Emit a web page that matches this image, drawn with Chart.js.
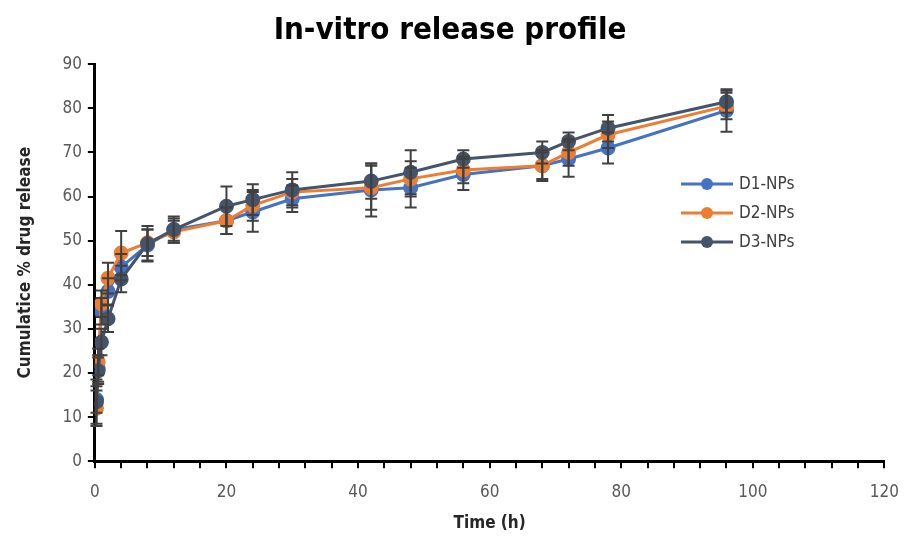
<!DOCTYPE html>
<html lang="en">
<head>
    <meta charset="UTF-8">
    <title>In-vitro release profile</title>
    <script src="https://cdn.jsdelivr.net/npm/chart.js"></script>
    <style>
        html, body { margin: 0; padding: 0; background: #fff; }
        #wrap { width: 913px; height: 536px; }
    </style>
</head>
<body>
    <div id="wrap"><canvas id="releaseChart"></canvas></div>
    <script>
        // Time points (h)
        const hours = [0.25, 0.5, 1, 2, 4, 8, 12, 20, 24, 30, 42, 48, 56, 68, 72, 78, 96];

        // Cumulative % drug release
        const d1Values = [14, 21, 34, 38.5, 44, 49, 52.5, 54.5, 56.5, 59.5, 61.5, 62, 65, 67, 68.5, 71, 79.5];
        const d2Values = [12, 22.5, 35.7, 41.5, 47.2, 49.5, 52, 54.5, 58, 61, 62, 64, 66, 67, 70, 74, 80.5];
        const d3Values = [13.5, 20.5, 27, 32.3, 41.3, 49.3, 52.5, 57.8, 59.3, 61.5, 63.5, 65.5, 68.5, 70, 72.5, 75.5, 81.5];

        // Standard deviations
        const d1Errors = [3, 3, 3, 3, 3, 3.5, 2.5, 3, 4.5, 3, 6, 4.5, 3.5, 3.5, 4, 3.5, 4.8];
        const d2Errors = [4, 3, 3, 3.5, 5, 3, 2.5, 3, 3.5, 3, 5, 4, 3, 3, 3, 3, 3];
        const d3Errors = [5, 3, 3, 3, 3, 4, 3, 4.5, 3.5, 4, 4, 5, 2, 2.5, 2, 3, 2.5];

        const seriesNames = ['D1-NPs', 'D2-NPs', 'D3-NPs'];
        const seriesColors = ['#4472C4', '#ED7D31', '#44546A'];

        const xTicks = [0, 20, 40, 60, 80, 100, 120];
        const yTicks = [0, 10, 20, 30, 40, 50, 60, 70, 80, 90];

        const FONT = '"Liberation Sans Narrow", "DejaVu Sans Condensed", sans-serif';

        function toPoints(values) {
            return values.map((v, i) => ({ x: hours[i], y: v }));
        }

        const allValues = [d1Values, d2Values, d3Values];
        const allErrors = [d1Errors, d2Errors, d3Errors];

        // Error bars drawn through the chart scales
        const errorBarPlugin = {
            id: 'errorBars',
            afterDatasetsDraw(chart) {
                const ctx = chart.ctx;
                const xs = chart.scales.x;
                const ys = chart.scales.y;
                ctx.save();
                ctx.strokeStyle = '#404040';
                ctx.lineWidth = 2;
                allValues.forEach((vals, s) => {
                    vals.forEach((v, i) => {
                        const px = xs.getPixelForValue(hours[i]);
                        const top = ys.getPixelForValue(v + allErrors[s][i]);
                        const bot = ys.getPixelForValue(v - allErrors[s][i]);
                        ctx.beginPath();
                        ctx.moveTo(px, top);
                        ctx.lineTo(px, bot);
                        ctx.moveTo(px - 6, top);
                        ctx.lineTo(px + 6, top);
                        ctx.moveTo(px - 6, bot);
                        ctx.lineTo(px + 6, bot);
                        ctx.stroke();
                    });
                });
                ctx.restore();
            }
        };

        // Legend with line + marker samples
        const lineLegendPlugin = {
            id: 'lineLegend',
            afterDraw(chart) {
                const ctx = chart.ctx;
                ctx.save();
                seriesNames.forEach((name, i) => {
                    const y = 184 + i * 29;
                    ctx.strokeStyle = seriesColors[i];
                    ctx.lineWidth = 3;
                    ctx.beginPath();
                    ctx.moveTo(681, y);
                    ctx.lineTo(733, y);
                    ctx.stroke();
                    ctx.fillStyle = seriesColors[i];
                    ctx.beginPath();
                    ctx.arc(707, y, 6, 0, Math.PI * 2);
                    ctx.fill();
                    ctx.fillStyle = '#404040';
                    ctx.font = '17px ' + FONT;
                    ctx.textBaseline = 'middle';
                    ctx.fillText(name, 739, y + 1);
                });
                ctx.restore();
            }
        };

        const datasets = seriesNames.map((name, i) => ({
            label: name,
            data: toPoints(allValues[i]),
            borderColor: seriesColors[i],
            backgroundColor: seriesColors[i],
            borderWidth: 3,
            pointRadius: 6,
            pointHoverRadius: 6,
            tension: 0,
            order: 2 - i
        }));

        new Chart(document.getElementById('releaseChart'), {
            type: 'line',
            data: { datasets: datasets },
            options: {
                responsive: true,
                maintainAspectRatio: false,
                animation: false,
                layout: { padding: { left: 15, right: 28, top: 0, bottom: 2 } },
                plugins: {
                    legend: { display: false },
                    tooltip: { enabled: false },
                    title: {
                        display: true,
                        text: 'In-vitro release profile',
                        color: '#000',
                        font: { family: FONT, size: 31, weight: 'bold' },
                        padding: { top: 12, bottom: 15 }
                    }
                },
                scales: {
                    x: {
                        type: 'linear',
                        min: 0,
                        max: 120,
                        afterBuildTicks(scale) {
                            const t = [];
                            for (let v = 0; v <= 120; v += 4) t.push({ value: v });
                            scale.ticks = t;
                        },
                        ticks: {
                            autoSkip: false,
                            maxRotation: 0,
                            color: '#595959',
                            font: { family: FONT, size: 17 },
                            padding: 14,
                            callback: v => xTicks.includes(v) ? String(v) : ''
                        },
                        grid: { drawOnChartArea: false, drawTicks: true, tickLength: 7, color: '#000', lineWidth: 2 },
                        border: { color: '#000', width: 3 },
                        title: {
                            display: true,
                            text: 'Time (h)',
                            color: '#262626',
                            font: { family: FONT, size: 17, weight: 'bold' },
                            padding: { top: -3, bottom: 0 }
                        }
                    },
                    y: {
                        min: 0,
                        max: 90,
                        afterBuildTicks(scale) {
                            scale.ticks = yTicks.map(v => ({ value: v }));
                        },
                        ticks: {
                            color: '#595959',
                            font: { family: FONT, size: 17 },
                            padding: 6
                        },
                        grid: { drawOnChartArea: false, drawTicks: true, tickLength: 7, color: '#000', lineWidth: 2 },
                        border: { color: '#000', width: 3 },
                        title: {
                            display: true,
                            text: 'Cumulatice % drug release',
                            color: '#262626',
                            font: { family: FONT, size: 17, weight: 'bold' },
                            padding: { top: 0, bottom: 21 }
                        }
                    }
                }
            },
            plugins: [errorBarPlugin, lineLegendPlugin]
        });
    </script>
</body>
</html>
